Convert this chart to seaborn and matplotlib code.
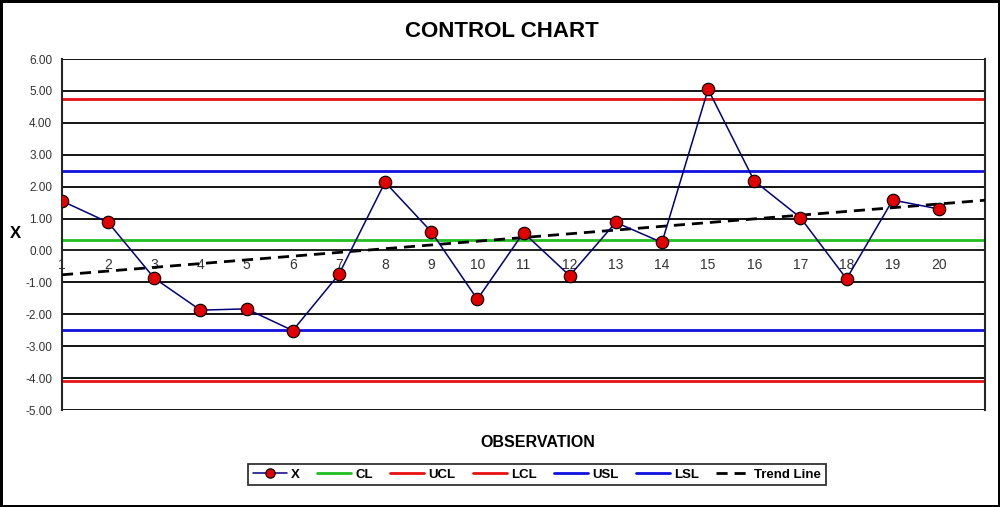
import numpy as np
import pandas as pd
import matplotlib
matplotlib.use("Agg")
import matplotlib.pyplot as plt
import seaborn as sns

obs = list(range(1, 21))
x_vals = [1.55, 0.88, -0.87, -1.87, -1.83, -2.51, -0.75, 2.14, 0.59, -1.53,
          0.56, -0.79, 0.88, 0.25, 5.05, 2.18, 1.03, -0.89, 1.58, 1.30]

# limit lines
cl = 0.33
ucl = 4.76
lcl = -4.08
usl = 2.50
lsl = -2.50

y_ticks = list(range(-5, 7))
x_ticks = list(range(1, 22))
x_labels = [str(i) for i in range(1, 21)] + [""]

df = pd.DataFrame({"obs": obs, "X": x_vals})

# linear trend like excel's trend line, drawn out to 21
slope, intercept = np.polyfit(df["obs"], df["X"], 1)
trend = pd.DataFrame({"obs": [1, 21]})
trend["y"] = intercept + slope * trend["obs"]

sns.set_style("white")
plt.rcParams["font.family"] = ["Liberation Sans", "DejaVu Sans"]
plt.rcParams["text.color"] = "black"

fig = plt.figure(figsize=(10, 5.07), dpi=100)
fig.patch.set_edgecolor("black")
fig.patch.set_linewidth(2.5)
ax = fig.add_axes([0.062, 0.1913, 0.923, 0.6923])

# black gridlines at every unit
for yv in y_ticks:
    ax.axhline(yv, color="black", lw=1.3, zorder=1)

ax.axhline(cl, color="#1fbf1f", lw=2, zorder=2, label="CL")
ax.axhline(ucl, color="#e81010", lw=2, zorder=2, label="UCL")
ax.axhline(lcl, color="#e81010", lw=2, zorder=2, label="LCL")
ax.axhline(usl, color="#1010e0", lw=2, zorder=2, label="USL")
ax.axhline(lsl, color="#1010e0", lw=2, zorder=2, label="LSL")

sns.lineplot(data=trend, x="obs", y="y", ax=ax, color="black", lw=2,
             linestyle=(0, (4, 2.5)), zorder=3, label="Trend Line")
sns.lineplot(data=df, x="obs", y="X", ax=ax, color="#000080", lw=1.1,
             marker="o", markersize=9, markerfacecolor="#e00000",
             markeredgecolor="black", markeredgewidth=0.8, zorder=4, label="X")

ax.set_xlim(1, 21)
ax.set_ylim(-5, 6)
ax.set_yticks(y_ticks)
ax.set_yticklabels([f"{v:.2f}" for v in y_ticks], fontsize=8.5, color="#333333")
ax.set_xticks(x_ticks)
ax.set_xticklabels(x_labels, fontsize=8.5, color="#333333")

ax.spines["bottom"].set_position(("data", 0))
ax.spines["bottom"].set_linewidth(1.3)
ax.spines["left"].set_linewidth(1.5)
ax.spines["right"].set_linewidth(1.5)
ax.spines["top"].set_visible(False)
ax.tick_params(axis="x", direction="inout", length=7, width=1.3, pad=2, colors="black", labelcolor="#333333")
ax.tick_params(axis="y", direction="out", length=4, width=1.3, pad=3, colors="black", labelcolor="#333333")
ax.set_xlabel("")
ax.set_ylabel("")
if ax.get_legend():
    ax.get_legend().remove()

fig.text(0.502, 0.937, "CONTROL CHART", ha="center", va="center",
         fontsize=16, fontweight="bold", color="black")
fig.text(0.538, 0.128, "OBSERVATION", ha="center", va="center",
         fontsize=11.5, fontweight="bold", color="black")
fig.text(0.015, 0.54, "X", ha="center", va="center",
         fontsize=12, fontweight="bold", color="black")

handles, labels = ax.get_legend_handles_labels()
order = ["X", "CL", "UCL", "LCL", "USL", "LSL", "Trend Line"]
hmap = dict(zip(labels, handles))
leg = fig.legend([hmap[k] for k in order], order, loc="center",
                 bbox_to_anchor=(0.537, 0.064), ncol=7, fancybox=False,
                 frameon=True, edgecolor="black", handlelength=2.6,
                 columnspacing=1.3, handletextpad=0.3, borderpad=0.35,
                 markerscale=0.75, prop={"weight": "bold", "size": 9.5})
leg.get_frame().set_linewidth(1.3)

fig.savefig("out.png", dpi=100)
